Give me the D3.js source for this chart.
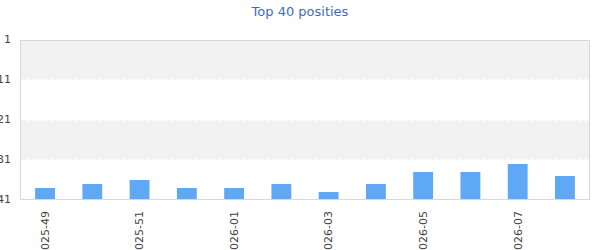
<!DOCTYPE html>
<html>
<head>
<meta charset="utf-8">
<script src="https://cdn.jsdelivr.net/npm/d3@7"></script>
<style>
  body { margin: 0; background: #fff; }
  svg { font-family: "DejaVu Sans", Verdana, sans-serif; display: block; }
</style>
</head>
<body>
<div id="chart"></div>
<script>
// weeks and chart positions (lower is better)
var weeks = ["2025-49","2025-50","2025-51","2025-52","2026-01","2026-02",
             "2026-03","2026-04","2026-05","2026-06","2026-07","2026-08"];
var positions = [38, 37, 36, 38, 38, 37, 39, 37, 34, 34, 32, 35];
var yTicks = [1, 11, 21, 31, 41];
var bands = [[1, 11], [21, 31]];

var width = 600, height = 250;
var margin = {top: 40, right: 10, bottom: 50, left: 20};

var svg = d3.select("#chart").append("svg")
    .attr("width", width)
    .attr("height", height);

var x = d3.scaleBand()
    .domain(weeks)
    .range([margin.left, width - margin.right])
    .paddingInner(0.58)
    .paddingOuter(0.32);

var y = d3.scaleLinear()
    .domain([1, 41])
    .range([margin.top, height - margin.bottom]);

// title
svg.append("text")
    .attr("x", width / 2)
    .attr("y", 16)
    .attr("text-anchor", "middle")
    .attr("font-size", 13)
    .style("fill", "#3a6cc4")
    .text("Top 40 posities");

// alternating bands
svg.selectAll("rect.band").data(bands).enter().append("rect")
    .attr("class", "band")
    .attr("x", margin.left)
    .attr("width", width - margin.left - margin.right)
    .attr("y", function(d) { return y(d[0]); })
    .attr("height", function(d) { return y(d[1]) - y(d[0]); })
    .style("fill", "#f2f2f2");

// dashed white gridlines
svg.selectAll("line.grid").data(yTicks.slice(1, -1)).enter().append("line")
    .attr("class", "grid")
    .attr("x1", margin.left)
    .attr("x2", width - margin.right)
    .attr("y1", function(d) { return y(d); })
    .attr("y2", function(d) { return y(d); })
    .style("stroke", "#fff")
    .style("stroke-width", 1.5)
    .style("stroke-dasharray", "4,2");

// bars: taller bar = better position
svg.selectAll("rect.bar").data(positions).enter().append("rect")
    .attr("class", "bar")
    .attr("x", function(d, i) { return x(weeks[i]); })
    .attr("width", x.bandwidth())
    .attr("y", function(d) { return y(d); })
    .attr("height", function(d) { return y(41) - y(d); })
    .style("fill", "#5fa8f5");

// plot border
svg.append("rect")
    .attr("x", margin.left + 0.5)
    .attr("y", margin.top + 0.5)
    .attr("width", width - margin.left - margin.right - 1)
    .attr("height", height - margin.top - margin.bottom - 1)
    .style("fill", "none")
    .style("stroke", "#d8d8d8");

// y axis labels
var yAxis = d3.axisLeft(y).tickValues(yTicks).tickSize(0).tickPadding(9);
var gy = svg.append("g")
    .attr("transform", "translate(" + margin.left + ",0)")
    .call(yAxis);
gy.select(".domain").remove();
gy.selectAll("text")
    .attr("font-size", 11)
    .attr("font-family", "DejaVu Sans, Verdana, sans-serif")
    .style("fill", "#444")
    .attr("dy", "0.2em");

// x axis labels, every other week, rotated
var xAxis = d3.axisBottom(x)
    .tickValues(weeks.filter(function(d, i) { return i % 2 === 0; }))
    .tickSize(0);
var gx = svg.append("g")
    .attr("transform", "translate(0," + (height - margin.bottom) + ")")
    .call(xAxis);
gx.select(".domain").remove();
gx.selectAll("text")
    .attr("font-size", 11)
    .attr("font-family", "DejaVu Sans, Verdana, sans-serif")
    .style("fill", "#444")
    .attr("text-anchor", "end")
    .attr("transform", "translate(0,11) rotate(-90)")
    .attr("x", 0)
    .attr("y", 0)
    .attr("dy", "0.35em");
</script>
</body>
</html>
